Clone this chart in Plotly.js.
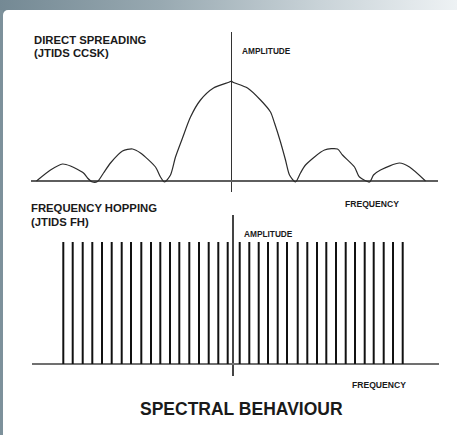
<!DOCTYPE html>
<html>
<head>
<meta charset="utf-8">
<script src="https://cdn.plot.ly/plotly-3.0.1.min.js"></script>
<style>
  html, body { margin: 0; padding: 0; width: 457px; height: 435px; overflow: hidden; }
  body { background: linear-gradient(to right, #748994 0%, #98a9b1 35%, #c9d3d8 70%, #eef2f4 100%); position: relative; }
  #frame { position: absolute; left: 3px; top: 10px; width: 454px; height: 425px; background: #ffffff; border-top-left-radius: 5px; }
  #leftband { position: absolute; left: 0; top: 10px; width: 3px; height: 425px; background: #7d919b; }
  #chart { position: absolute; left: 0; top: 0; width: 457px; height: 435px; }
</style>
</head>
<body>
<div id="leftband"></div>
<div id="frame"></div>
<div id="chart"></div>
<script>
// ---- Data ----
// Direct spreading spectrum: frequency offset vs amplitude
const dsFreq = [-195, -181, -169, -161, -148, -144, -139, -134, -128, -121, -109, -99, -91, -76, -71, -67, -61, -56, -49, -41, -31, -18, -2, 0,
                1, 16, 29, 39, 43, 49, 54, 58, 64, 69, 74, 93, 106, 111, 123, 128, 138, 142, 149, 168, 178, 194];
const dsAmp  = [0, 11, 17, 15, 8, 3, -1, -0.5, 8, 18, 30, 32, 28, 14, 4, -1, 6, 24, 43, 64, 81, 93, 99, 100,
                99, 93, 81, 69, 58, 39, 21, 6, -1, 8, 16, 31, 32, 26, 14, 4, -1, 6, 11, 18, 14, 0];

// Frequency hopping: carrier frequencies (offsets) and their amplitude
const fhFreq = [-169.7, -160.3, -150.3, -140.7, -131, -121.3, -111.3, -102, -91.7, -82, -72.7, -63, -53.7, -43.7, -34, -24.3, -14.7, -5.3,
                6.7, 16.3, 25.7, 35, 44.7, 54, 64.7, 74.3, 84, 93.3, 103, 112.7, 122, 131.7, 140.7, 150.7, 160, 169.7];
const fhAmp = fhFreq.map(() => 122);

// Text labels
const topTitle = ["DIRECT SPREADING", "(JTIDS CCSK)"];
const bottomTitle = ["FREQUENCY HOPPING", "(JTIDS FH)"];
const ampLabel = "AMPLITUDE";
const freqLabel = "FREQUENCY";
const mainTitle = "SPECTRAL BEHAVIOUR";

// ---- Layout helpers (pixel -> paper) ----
const W = 457, H = 435;
const px = v => v / W;
const py = v => 1 - v / H;
const FONT = '"Liberation Sans", Arial, Helvetica, sans-serif';
const TXT = '#1a1a1a';

function label(text, x, y, size, anchor) {
  return {
    text: text, xref: 'paper', yref: 'paper', x: px(x), y: py(y),
    xanchor: anchor || 'left', yanchor: 'middle', showarrow: false, borderpad: 0,
    font: { family: FONT, size: size, color: TXT, weight: 'bold' }
  };
}

const traces = [
  {
    x: dsFreq, y: dsAmp, type: 'scatter', mode: 'lines',
    line: { color: '#2b2b2b', width: 1.2, shape: 'spline', smoothing: 0.7 },
    xaxis: 'x', yaxis: 'y', hoverinfo: 'skip'
  },
  {
    x: fhFreq, y: fhAmp, type: 'bar', width: 2,
    marker: { color: '#111111', line: { width: 0 } },
    xaxis: 'x2', yaxis: 'y2', hoverinfo: 'skip'
  }
];

const axCommon = { showgrid: false, showticklabels: false, ticks: '', showline: false, zeroline: true, fixedrange: true };

const layout = {
  width: W, height: H,
  margin: { l: 0, r: 0, t: 0, b: 0 },
  paper_bgcolor: 'rgba(0,0,0,0)', plot_bgcolor: 'rgba(0,0,0,0)',
  showlegend: false,
  xaxis: Object.assign({}, axCommon, {
    domain: [px(31), px(438)], range: [31 - 231.5, 438 - 231.5],
    zerolinecolor: '#333333', zerolinewidth: 1.3, anchor: 'y'
  }),
  yaxis: Object.assign({}, axCommon, {
    domain: [py(192), py(32)], range: [-11, 149],
    zerolinecolor: '#5e5e5e', zerolinewidth: 1.8, anchor: 'x'
  }),
  xaxis2: Object.assign({}, axCommon, {
    domain: [px(32), px(439)], range: [32 - 233, 439 - 233],
    zerolinecolor: '#444444', zerolinewidth: 1.3, anchor: 'y2'
  }),
  yaxis2: Object.assign({}, axCommon, {
    domain: [py(376), py(215)], range: [-12, 149],
    zerolinecolor: '#707070', zerolinewidth: 1.8, anchor: 'x2'
  }),
  annotations: [
    label(topTitle[0], 33, 40, 11.3),
    label(topTitle[1], 33, 53.3, 11.3),
    label(ampLabel, 240.7, 50.7, 8.3),
    label(freqLabel, 344, 204, 8.6),
    label(bottomTitle[0], 30, 208.3, 11.3),
    label(bottomTitle[1], 30, 221.7, 11.3),
    label(ampLabel, 243, 234, 8.3),
    label(freqLabel, 350.7, 385, 8.6),
    label(mainTitle, 241, 409, 17.5, 'center')
  ]
};

Plotly.newPlot('chart', traces, layout, { displayModeBar: false, staticPlot: true });
</script>
</body>
</html>
